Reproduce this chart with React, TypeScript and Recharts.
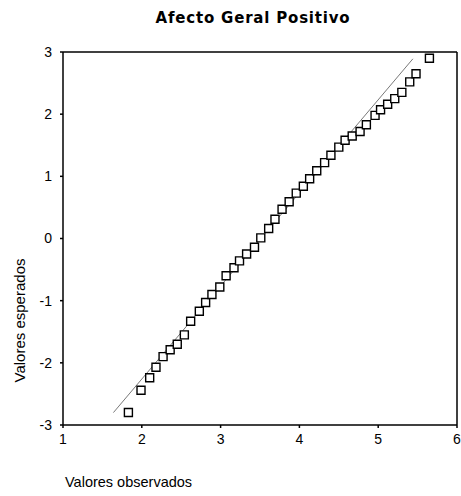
import React from "react";
import {
  ScatterChart,
  Scatter,
  XAxis,
  YAxis,
  ZAxis,
  ReferenceLine,
  Label,
} from "recharts";

// observed values (x) and expected normal values (y)
const observed = [
  1.83, 1.99, 2.1, 2.18, 2.27, 2.36, 2.45, 2.54, 2.62, 2.73, 2.81, 2.89, 2.99,
  3.07, 3.17, 3.24, 3.33, 3.43, 3.51, 3.61, 3.69, 3.78, 3.87, 3.96, 4.05, 4.13,
  4.22, 4.32, 4.4, 4.5, 4.58, 4.67, 4.77, 4.85, 4.96, 5.03, 5.12, 5.21, 5.3,
  5.4, 5.48, 5.65,
];
const expected = [
  -2.8, -2.44, -2.24, -2.07, -1.9, -1.79, -1.7, -1.55, -1.33, -1.17, -1.03,
  -0.9, -0.78, -0.6, -0.47, -0.36, -0.25, -0.14, 0.01, 0.16, 0.31, 0.47, 0.59,
  0.73, 0.84, 0.96, 1.09, 1.22, 1.34, 1.47, 1.58, 1.65, 1.72, 1.83, 1.98, 2.07,
  2.16, 2.25, 2.35, 2.52, 2.65, 2.9,
];

// reference line ends
const lineX = [1.64, 5.44];
const lineY = [-2.8, 2.89];

const xTicks = [1, 2, 3, 4, 5, 6];
const yTicks = [-3, -2, -1, 0, 1, 2, 3];

const points = observed.map((x, i) => ({ x, y: expected[i] }));
const segment = lineX.map((x, i) => ({ x, y: lineY[i] }));

const font = "'Liberation Sans', Arial, sans-serif";

const App = () => {
  return (
    <div
      style={{
        position: "absolute",
        left: 0,
        top: 0,
        width: 461,
        height: 496,
        background: "#fff",
        fontFamily: font,
      }}
    >
      <div
        style={{
          position: "absolute",
          left: 123,
          top: 9,
          width: 260,
          textAlign: "center",
          fontFamily: "'DejaVu Sans', sans-serif",
          fontWeight: 900,
          fontSize: 15,
          letterSpacing: 0.8,
          whiteSpace: "nowrap",
        }}
      >
        Afecto Geral Positivo
      </div>
      <ScatterChart
        width={461}
        height={496}
        margin={{ top: 52, right: 4, bottom: 1, left: 3 }}
      >
        <XAxis
          type="number"
          dataKey="x"
          domain={[1, 6]}
          ticks={xTicks}
          height={70}
          stroke="#000"
          strokeWidth={1.5}
          tickSize={3}
          tickMargin={6}
          tick={{ fill: "#000", fontSize: 14, fontFamily: font }}
          allowDataOverflow
        >
          <Label
            content={(props: any) => {
              const vb = props.viewBox;
              return (
                <text
                  x={vb.x + 2}
                  y={vb.y + vb.height - 8}
                  fontSize={14.5}
                  fontFamily={font}
                  fill="#000"
                >
                  Valores observados
                </text>
              );
            }}
          />
        </XAxis>
        <YAxis
          type="number"
          dataKey="y"
          domain={[-3, 3]}
          ticks={yTicks}
          width={60}
          stroke="#000"
          strokeWidth={1.5}
          tickSize={3}
          tickMargin={8}
          tick={{ fill: "#000", fontSize: 14, fontFamily: font }}
          allowDataOverflow
        >
          <Label
            content={(props: any) => {
              const vb = props.viewBox;
              const cx = vb.x + 22;
              const cy = vb.y + vb.height / 2 + 82;
              return (
                <text
                  x={cx}
                  y={cy}
                  transform={`rotate(-90, ${cx}, ${cy})`}
                  textAnchor="middle"
                  fontSize={15}
                  fontFamily={font}
                  fill="#000"
                >
                  Valores esperados
                </text>
              );
            }}
          />
        </YAxis>
        <ZAxis range={[46, 46]} />
        <ReferenceLine y={3} stroke="#000" strokeWidth={1.5} />
        <ReferenceLine x={6} stroke="#000" strokeWidth={1.5} />
        <ReferenceLine segment={segment} stroke="#555" strokeWidth={0.8} />
        <Scatter
          data={points}
          shape="square"
          fill="#fff"
          stroke="#000"
          strokeWidth={1.4}
          isAnimationActive={false}
        />
      </ScatterChart>
    </div>
  );
};

export default App;
